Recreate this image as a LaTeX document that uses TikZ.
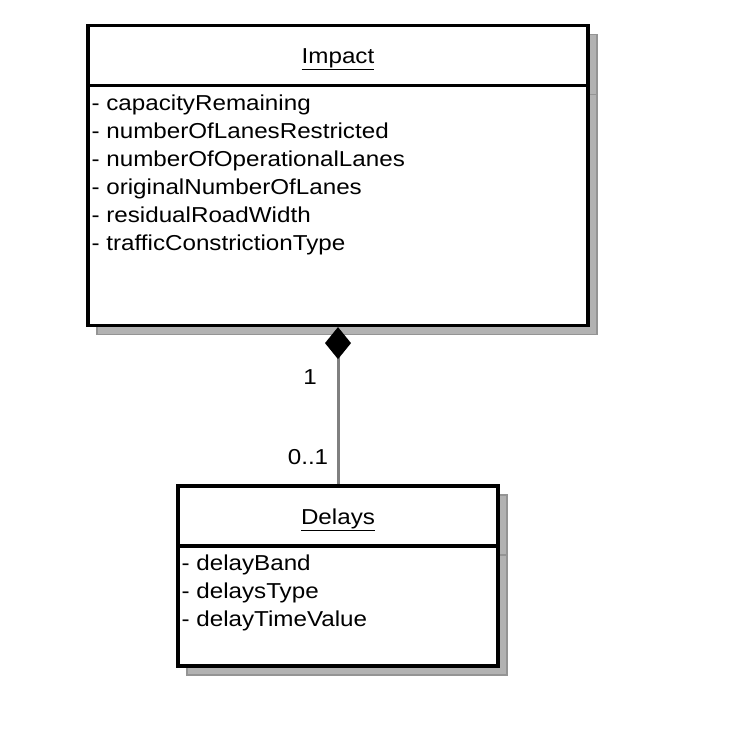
\documentclass[tikz,border=0pt]{standalone}
\usepackage{fontspec}
\setmainfont{Liberation Sans}[FakeStretch=1.12]
\usetikzlibrary{arrows.meta,shadows}
\begin{document}
\begin{tikzpicture}[x=1pt, y=-1pt, line join=miter,
  every node/.style={font=\fontsize{21.6}{28}\selectfont},
  umlbox/.style={draw=black, line width=3.2pt, fill=white, minimum width=#1, inner sep=0pt,
    drop shadow={shadow xshift=9pt, shadow yshift=-9pt, fill=black!30, draw=black!42, line width=1.4pt, opacity=1}},
  classhead/.style={umlbox=#1, minimum height=60pt, text height=16pt, text depth=0pt},
  attrs/.style={anchor=north west, align=left, inner xsep=5pt, inner ysep=10.5pt},
  assoc/.style={draw=black!50, line width=3pt, {Diamond[length=32pt, width=26pt, color=black, fill=black]}-},
  mult/.style={inner sep=0pt}]
\useasboundingbox (0,0) rectangle (736,731);
\node[classhead=500] (impact) at (338,55.5) {\underline{Impact}};
\node[umlbox=500, minimum height=240] (impactbody) at (338,205.5) {};
\node[attrs] (impactattrs) at (impactbody.north west) {- capacityRemaining\\- numberOfLanesRestricted\\- numberOfOperationalLanes\\- originalNumberOfLanes\\- residualRoadWidth\\- trafficConstrictionType};
\node[classhead=320] (delays) at (338,516) {\underline{Delays}};
\node[umlbox=320, minimum height=120] (delaysbody) at (338,606) {};
\node[attrs] (delaysattrs) at (delaysbody.north west) {- delayBand\\- delaysType\\- delayTimeValue};
\draw[assoc] (impactbody.south) -- (delays.north);
\node[mult] (multimpact) at (310,377) {1};
\node[mult] (multdelays) at (308,457) {0..1};
\end{tikzpicture}
\end{document}
